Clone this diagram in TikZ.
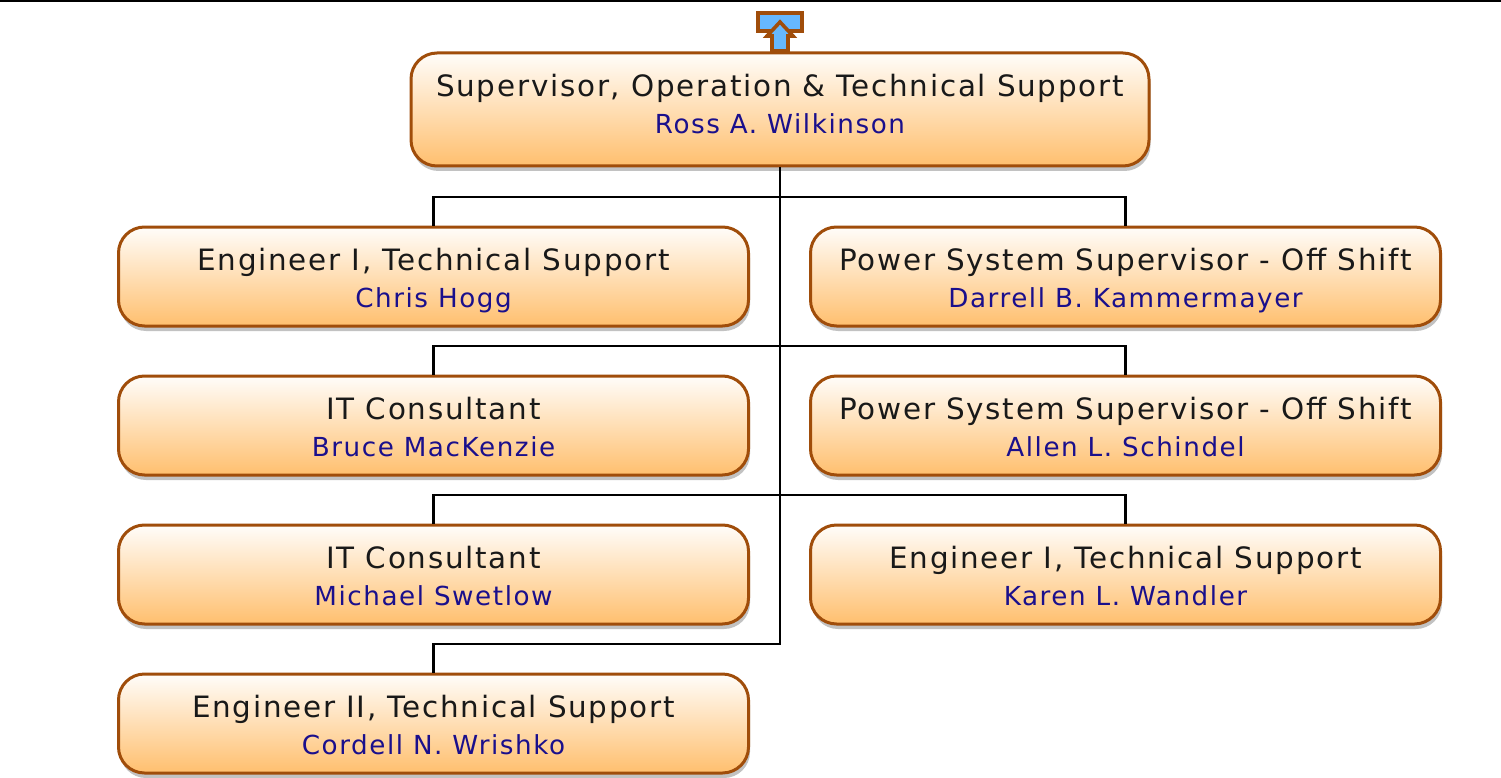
\documentclass[tikz,border=0pt]{standalone}
\usepackage{fontspec}
\setmainfont[LetterSpace=6]{DejaVu Sans}
\usetikzlibrary{shadows}
\definecolor{boxedge}{HTML}{A04D0A}
\definecolor{boxtop}{HTML}{FFFDFA}
\definecolor{boxbottom}{HTML}{FFBF6E}
\definecolor{namecolor}{HTML}{1A0F8C}
\definecolor{iconfill}{HTML}{66B8FF}
\tikzset{
  orgbox/.style={draw=boxedge,line width=3pt,rounded corners=26pt,top color=boxtop,bottom color=boxbottom,
    minimum height=99pt,minimum width=630pt,inner sep=0pt,align=center,
    font=\fontsize{26.2}{37}\selectfont,
    drop shadow={shadow xshift=1.5pt,shadow yshift=-5pt,fill=black!24,opacity=1}},
  bus/.style={line width=2.8pt,black},
  iconpart/.style={draw=boxedge,line width=3.6pt,fill=iconfill,line join=miter}
}
\newcommand{\orgtext}[3][11pt]{\rule{0pt}{36pt}{\fontsize{29.4}{37}\selectfont\color{black!90}#2}\\
  \rule[-#1]{0pt}{#1}{\color{namecolor}#3}}
\begin{document}
\begin{tikzpicture}[x=1pt,y=-1pt]
  \useasboundingbox (0,0) rectangle (1501,778);
  \coordinate (pagel) at (0,1);
  \coordinate (pager) at (1501,1);
  \draw[line width=3pt] (pagel) -- (pager);
  % boxes
  \node[orgbox,minimum width=738pt,minimum height=113pt] (ross) at (780,109.5)
    {\orgtext[25pt]{Supervisor, Operation \& Technical Support}{Ross A. Wilkinson}};
  \node[orgbox] (chris) at (433.5,276.5) {\orgtext{Engineer I, Technical Support}{Chris Hogg}};
  \node[orgbox] (darrell) at (1125.5,276.5) {\orgtext{Power System Supervisor - Off Shift}{Darrell B. Kammermayer}};
  \node[orgbox] (bruce) at (433.5,425.5) {\orgtext{IT Consultant}{Bruce MacKenzie}};
  \node[orgbox] (allen) at (1125.5,425.5) {\orgtext{Power System Supervisor - Off Shift}{Allen L. Schindel}};
  \node[orgbox] (michael) at (433.5,574.5) {\orgtext{IT Consultant}{Michael Swetlow}};
  \node[orgbox] (karen) at (1125.5,574.5) {\orgtext{Engineer I, Technical Support}{Karen L. Wandler}};
  \node[orgbox] (cordell) at (433.5,723.5) {\orgtext{Engineer II, Technical Support}{Cordell N. Wrishko}};
  % connectors
  \coordinate (busa) at (780,197);
  \coordinate (busb) at (780,346);
  \coordinate (busc) at (780,495);
  \coordinate (busd) at (780,644);
  \draw[bus] (ross.south) -- (busd) -| (cordell.north);
  \draw[bus] (chris.north) |- (busa) -| (darrell.north);
  \draw[bus] (bruce.north) |- (busb) -| (allen.north);
  \draw[bus] (michael.north) |- (busc) -| (karen.north);
  % collapse icon
  \draw[iconpart] (758,13) rectangle (802,31);
  \draw[iconpart] (772,51) -- (772,36) -- (767,36) -- (780,22) -- (793,36) -- (788,36) -- (788,51) -- cycle;
\end{tikzpicture}
\end{document}
